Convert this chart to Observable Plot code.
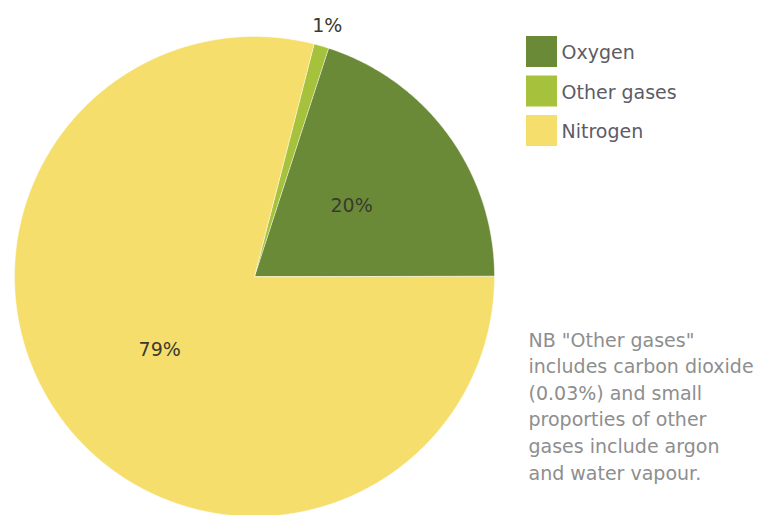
<!DOCTYPE html>
<html>
<head>
<meta charset="utf-8">
<script src="https://cdn.jsdelivr.net/npm/d3@7"></script>
<script src="https://cdn.jsdelivr.net/npm/@observablehq/plot@0.6"></script>
<style>
  html, body { margin: 0; padding: 0; background: #ffffff; }
  #chart svg { display: block; }
</style>
</head>
<body>
<div id="chart"></div>
<script>
// ---- data ----
const categories = ["Oxygen", "Other gases", "Nitrogen"];
const values = [20, 1, 79];
const valueLabels = ["20%", "1%", "79%"];
const colors = ["#6a8a38", "#a6c23c", "#f6de6c"];
const noteLines = [
  "NB \"Other gases\"",
  "includes carbon dioxide",
  "(0.03%) and small",
  "proporties of other",
  "gases include argon",
  "and water vapour."
];

// ---- layout ----
const W = 760, H = 515;
const cx = 254, cy = 276, r = 240;
const startAngle = 90;            // degrees clockwise from 12 o'clock (3 o'clock)
const legendX = 526, legendTop = 36, legendPitch = 39.5, legendSize = 31;
const noteX = 528, noteTop = 340, noteLineH = 26.6;
const fontSize = 19;

const rad = a => a * Math.PI / 180;
const px = (a, d) => cx + d * Math.sin(rad(a));
const py = (a, d) => cy - d * Math.cos(rad(a));

const total = d3.sum(values);
const polys = [];
const sliceLabels = [];
let cum = 0;
categories.forEach((name, i) => {
  const a0 = startAngle - (cum / total) * 360;
  cum += values[i];
  const a1 = startAngle - (cum / total) * 360;
  const n = Math.max(2, Math.ceil(Math.abs(a1 - a0) / 0.5));
  polys.push({name, x: cx, y: cy});
  for (let k = 0; k <= n; ++k) {
    const a = a0 + (a1 - a0) * k / n;
    polys.push({name, x: px(a, r), y: py(a, r)});
  }
  const mid = (a0 + a1) / 2;
  const share = values[i] / total;
  const d = share < 0.05 ? r + 21 : r * 0.5;
  sliceLabels.push({name, text: valueLabels[i], x: px(mid, d), y: py(mid, d)});
});

const legend = categories.map((name, i) => ({
  name,
  x1: legendX, x2: legendX + legendSize,
  y1: legendTop + i * legendPitch, y2: legendTop + i * legendPitch + legendSize,
  tx: legendX + legendSize + 4,
  ty: legendTop + i * legendPitch + legendSize / 2 + 1
}));

const notes = noteLines.map((t, i) => ({t, x: noteX, y: noteTop + i * noteLineH}));

const chart = Plot.plot({
  width: W,
  height: H,
  margin: 0,
  x: {domain: [0, W], range: [0, W], axis: null},
  y: {domain: [0, H], range: [0, H], axis: null},
  color: {domain: categories, range: colors},
  style: {fontFamily: "'DejaVu Sans', Verdana, sans-serif", background: "#ffffff", overflow: "visible"},
  marks: [
    Plot.line(polys, {x: "x", y: "y", z: "name", fill: "name", stroke: "#ffffff", strokeOpacity: 0.45, strokeWidth: 1, curve: "linear-closed"}),
    Plot.text(sliceLabels, {x: "x", y: "y", text: "text", fontSize, fill: "#3a3a2e"}),
    Plot.rect(legend, {x1: "x1", x2: "x2", y1: "y1", y2: "y2", fill: "name"}),
    Plot.text(legend, {x: "tx", y: "ty", text: "name", textAnchor: "start", fontSize, fill: "#5c5c66"}),
    Plot.text(notes, {x: "x", y: "y", text: "t", textAnchor: "start", fontSize, fill: "#8e8e8e"})
  ]
});
document.getElementById("chart").appendChild(chart);
</script>
</body>
</html>
